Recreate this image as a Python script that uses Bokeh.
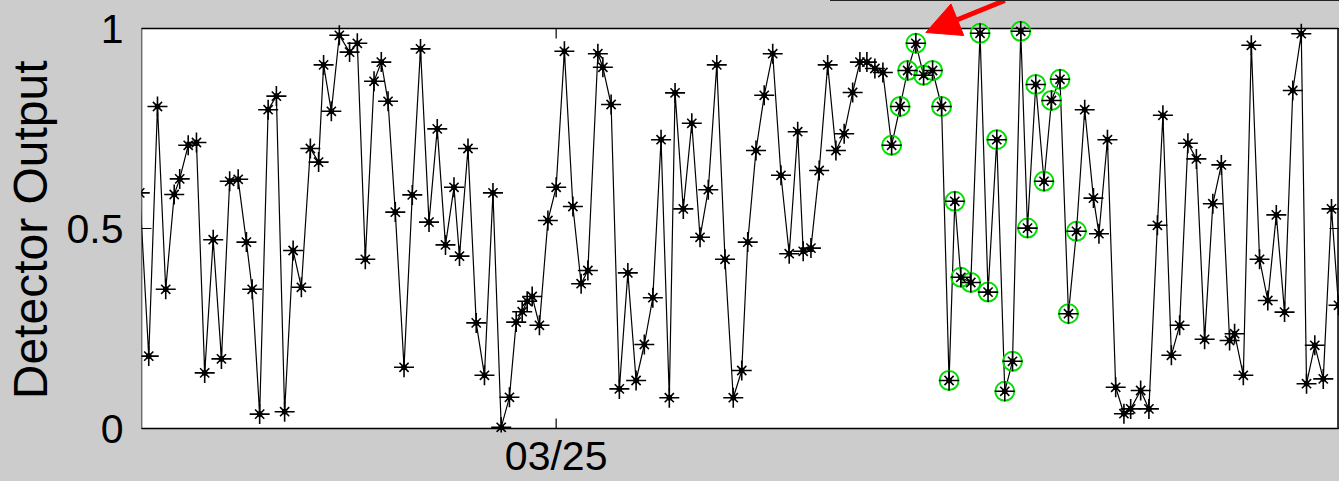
from bokeh.plotting import figure
from bokeh.models import FixedTicker, LinearAxis, Arrow, NormalHead, Range1d
from bokeh.embed import file_html
from bokeh.resources import INLINE

# ---- data ----
# sample times, hours relative to 03/25 00:00
t_hours = [
    -16.67, -16.31, -15.96, -15.63, -15.29, -15.07, -14.73, -14.40, -14.07, -13.73,
    -13.40, -13.07, -12.73, -12.40, -12.17, -11.87, -11.53, -11.20, -10.87, -10.53,
    -10.20, -9.84, -9.51, -9.31, -9.00, -8.68, -8.27, -7.96, -7.64, -7.29,
    -7.00, -6.73, -6.44, -6.09, -5.76, -5.43, -5.09, -4.76, -4.43, -4.09,
    -3.87, -3.53, -3.20, -2.87, -2.53, -2.20, -1.87, -1.60, -1.36, -1.16,
    -0.96, -0.67, -0.33, 0.00, 0.33, 0.67, 1.00, 1.27, 1.67, 1.87,
    2.20, 2.53, 2.87, 3.20, 3.53, 3.87, 4.20, 4.53, 4.76, 5.09,
    5.43, 5.76, 6.09, 6.43, 6.76, 7.09, 7.43, 7.67, 8.00, 8.33,
    8.67, 9.00, 9.33, 9.67, 9.89, 10.20, 10.53, 10.87, 11.20, 11.53,
    11.87, 12.16, 12.44, 12.76, 13.08, 13.43, 13.77, 14.07, 14.40, 14.71,
    15.07, 15.43, 15.73, 15.96, 16.20, 16.60, 16.97, 17.29, 17.64, 17.96,
    18.27, 18.60, 18.87, 19.20, 19.53, 19.83, 20.17, 20.51, 20.83, 21.16,
    21.51, 21.73, 22.07, 22.40, 22.73, 23.00, 23.40, 23.73, 24.07, 24.29,
    24.63, 24.96, 25.29, 25.63, 25.96, 26.29, 26.63, 26.96, 27.16, 27.51,
    27.83, 28.16, 28.49, 28.83, 29.16, 29.49, 29.83, 30.04, 30.37, 30.71,
    31.04, 31.32,
]
detector_output = [
    0.589, 0.181, 0.805, 0.348, 0.585, 0.624, 0.708, 0.715, 0.139, 0.472,
    0.174, 0.618, 0.623, 0.466, 0.348, 0.036, 0.797, 0.831, 0.042, 0.445,
    0.353, 0.700, 0.666, 0.909, 0.793, 0.983, 0.941, 0.963, 0.423, 0.868,
    0.916, 0.818, 0.541, 0.153, 0.584, 0.949, 0.516, 0.749, 0.459, 0.603,
    0.431, 0.700, 0.264, 0.133, 0.589, 0.003, 0.078, 0.266, 0.292, 0.318,
    0.330, 0.258, 0.520, 0.603, 0.943, 0.555, 0.362, 0.395, 0.937, 0.903,
    0.810, 0.099, 0.389, 0.120, 0.210, 0.327, 0.722, 0.077, 0.839, 0.549,
    0.763, 0.478, 0.597, 0.909, 0.423, 0.077, 0.145, 0.466, 0.695, 0.833,
    0.937, 0.633, 0.437, 0.742, 0.443, 0.451, 0.645, 0.909, 0.695, 0.737,
    0.840, 0.916, 0.916, 0.900, 0.890, 0.708, 0.805, 0.895, 0.963, 0.883,
    0.895, 0.805, 0.120, 0.568, 0.378, 0.365, 0.988, 0.341, 0.722, 0.093,
    0.168, 0.993, 0.501, 0.860, 0.618, 0.820, 0.873, 0.287, 0.493, 0.797,
    0.576, 0.487, 0.722, 0.103, 0.037, 0.049, 0.095, 0.049, 0.508, 0.783,
    0.183, 0.258, 0.713, 0.674, 0.223, 0.562, 0.659, 0.220, 0.237, 0.133,
    0.958, 0.423, 0.320, 0.534, 0.291, 0.845, 0.987, 0.112, 0.208, 0.124,
    0.549, 0.308,
]
# detections highlighted in green (time window, hours)
flag_start_h = 13.4
flag_end_h = 20.9
x_tick_hours = [0]
x_tick_labels = ["03/25"]
y_ticks = [0, 0.5, 1]
y_tick_labels = ["0", "0.5", "1"]
y_title = "Detector Output"
# axes box limits (hours, output) and visible view
box_x = (-16.6, 31.30)
box_y = (0, 1)
view_x = (-16.6, 31.36)
view_y = (-0.01, 1.07)
# annotation arrow (tail -> tip), data coords
arrow_tail = (17.96, 1.07)
arrow_tip = (14.8, 0.99)

flag_t = [t for t in t_hours if flag_start_h <= t <= flag_end_h]
flag_v = [v for t, v in zip(t_hours, detector_output) if flag_start_h <= t <= flag_end_h]

FONT = "Liberation Sans"
GRAY = "#cccccc"
TICK_PX = 10
FRAME_H = 432
NBSP = "\u00a0"

p = figure(width=1339, height=481, frame_height=FRAME_H,
           output_backend="svg", toolbar_location=None,
           x_range=Range1d(*view_x), y_range=Range1d(*view_y),
           min_border_left=140, min_border_right=0, min_border_top=0, min_border_bottom=49,
           background_fill_color=GRAY, border_fill_color=GRAY)
p.outline_line_color = None
p.grid.visible = False

# white axes box with black border
p.quad(left=[box_x[0]], right=[box_x[1]], bottom=[box_y[0]], top=[box_y[1]],
       fill_color="white", line_color="black", line_width=1.5)
# inner tick marks on the top and bottom edges of the box
tick_len_y = TICK_PX * (view_y[1] - view_y[0]) / FRAME_H
n = len(x_tick_hours)
p.segment(x0=x_tick_hours * 2, x1=x_tick_hours * 2,
          y0=[box_y[1]] * n + [box_y[0]] * n,
          y1=[box_y[1] - tick_len_y] * n + [box_y[0] + tick_len_y] * n,
          line_color="black", line_width=1.2)

p.line(t_hours, detector_output, line_color="black", line_width=1.2)
p.scatter(flag_t, flag_v, marker="circle", size=19, fill_color=None,
          line_color="#00e000", line_width=2)
p.scatter(t_hours, detector_output, marker="cross", size=20, line_color="black", line_width=1.6)
p.scatter(t_hours, detector_output, marker="x", size=13, line_color="black", line_width=1.6)
p.scatter(t_hours, detector_output, marker="circle", size=5, line_color="black", fill_color="black")

# axes
xa = p.xaxis[0]
xa.ticker = FixedTicker(ticks=x_tick_hours)
xa.major_label_overrides = dict(zip(x_tick_hours, x_tick_labels))
xa.axis_line_color = None
xa.major_tick_in = 0
xa.major_tick_out = 0
xa.major_label_standoff = 0
xa.major_label_text_font_size = "41px"
ya = p.yaxis[0]
ya.ticker = FixedTicker(ticks=y_ticks)
ya.major_label_overrides = dict(zip(y_ticks, y_tick_labels))
ya.axis_line_color = None
ya.major_tick_in = TICK_PX
ya.major_tick_out = 0
ya.major_label_standoff = 18
ya.major_label_text_font_size = "41px"
for ax in (xa, ya):
    ax.minor_tick_in = 0
    ax.minor_tick_out = 0
    ax.major_tick_line_width = 1.2
    ax.major_label_text_font = FONT
    ax.major_label_text_color = "black"
# y title (two trailing no-break spaces centre the visible words on the box)
ya.axis_label = y_title + NBSP * 2
ya.axis_label_text_font = FONT
ya.axis_label_text_font_size = "48px"
ya.axis_label_text_font_style = "normal"
ya.axis_label_text_color = "black"
ya.axis_label_standoff = 7

right = LinearAxis(ticker=FixedTicker(ticks=y_ticks), major_label_overrides={k: "" for k in y_ticks},
                   major_label_text_font_size="1px", major_label_standoff=0,
                   major_tick_in=TICK_PX, major_tick_out=0, minor_tick_in=0, minor_tick_out=0,
                   axis_line_color=None, major_tick_line_width=1.2)
p.add_layout(right, "right")

p.add_layout(Arrow(end=NormalHead(size=34, fill_color="#ff0000", line_color="#ff0000"),
                   x_start=arrow_tail[0], y_start=arrow_tail[1],
                   x_end=arrow_tip[0], y_end=arrow_tip[1],
                   line_color="#ff0000", line_width=5))

html = file_html(p, INLINE, title="Detector Output")
head_end = html.find("</head>")
b = html.find("<body", head_end)
e = html.find(">", b)
html = (html[:b]
        + '<body style="background-color:#cccccc;overflow:hidden;">'
        + '<div style="position:absolute;left:830px;top:0px;width:509px;height:1px;'
          'background:#222;z-index:10;"></div>'
        + html[e + 1:])
open("out.html", "w").write(html)
